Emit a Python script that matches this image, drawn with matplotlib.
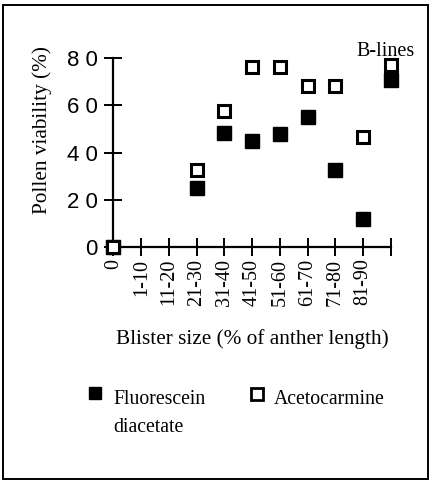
import numpy as np
import matplotlib
matplotlib.use('Agg')
import matplotlib.pyplot as plt
from matplotlib.patches import Rectangle

######################################################################
## Data
######################################################################

size_classes = ['0', '1-10', '11-20', '21-30', '31-40', '41-50',
                '51-60', '61-70', '71-80', '81-90', '']
positions = [0, 3, 4, 5, 6, 7, 8, 9, 10]
fluorescein = [0, 25, 48.5, 45, 48, 55, 32.5, 11.8, 70.8]
acetocarmine = [0, 32.6, 57.5, 76.3, 76.3, 68.2, 68.2, 46.5, 77.4]
y_ticks = [0, 20, 40, 60, 80]
y_ticklabels = ['0', '2 0', '4 0', '6 0', '8 0']

serif = 'Liberation Serif'
sans = 'Liberation Sans'

######################################################################
## Plot
######################################################################

fig = plt.figure(figsize=(4.32, 4.84), dpi=100)
ax = fig.add_axes([0.2627, 0.4903, 0.642, 0.389])

ax.plot(positions, fluorescein, ls='none', marker='s', ms=9.5,
        mfc='black', mec='black', mew=1, clip_on=False, zorder=3)
ax.plot(positions, acetocarmine, ls='none', marker='s', ms=8.5,
        mfc='white', mec='black', mew=2.2, clip_on=False, zorder=4)

ax.set_xlim(0, 10)
ax.set_ylim(0, 80)
ax.spines['top'].set_visible(False)
ax.spines['right'].set_visible(False)
for s in ['left', 'bottom']:
    ax.spines[s].set_linewidth(1.6)

ax.set_xticks(range(len(size_classes)))
ax.set_xticklabels(size_classes, rotation=90, family=serif, fontsize=14.5)
ax.set_yticks(y_ticks)
ax.set_yticklabels(y_ticklabels, family=sans, fontsize=16)
ax.tick_params(axis='both', direction='inout', length=13, width=1.4)
ax.tick_params(axis='x', pad=2)
ax.tick_params(axis='y', pad=5)

ax.set_ylabel('Pollen viability (%)', family=serif, fontsize=15.3)
ax.yaxis.set_label_coords(-0.222, 0.62)
ax.set_xlabel('Blister size (% of anther length)', family=serif,
              fontsize=15.3, labelpad=17)

fig.text(386 / 432, 1 - 51 / 484, 'B-lines', family=serif, fontsize=14.5,
         ha='center', va='center')

# legend drawn by hand to keep the two-line label layout
fig.lines.append(plt.Line2D([95 / 432], [1 - 393 / 484], ls='none', marker='s',
                            ms=9, mfc='black', mec='black',
                            transform=fig.transFigure))
fig.text(113 / 432, 1 - 390 / 484, 'Fluorescein\ndiacetate', family=serif,
         fontsize=14.2, ha='left', va='top', linespacing=1.65)
fig.lines.append(plt.Line2D([257 / 432], [1 - 394 / 484], ls='none', marker='s',
                            ms=8, mfc='white', mec='black', mew=2,
                            transform=fig.transFigure))
fig.text(274 / 432, 1 - 390 / 484, 'Acetocarmine', family=serif,
         fontsize=14.2, ha='left', va='top')

# outer frame
fig.patches.append(Rectangle((3 / 432, 1 - 479 / 484), 425 / 432, 474 / 484,
                             fill=False, ec='black', lw=1.4,
                             transform=fig.transFigure))

fig.savefig('out.png', dpi=100)
